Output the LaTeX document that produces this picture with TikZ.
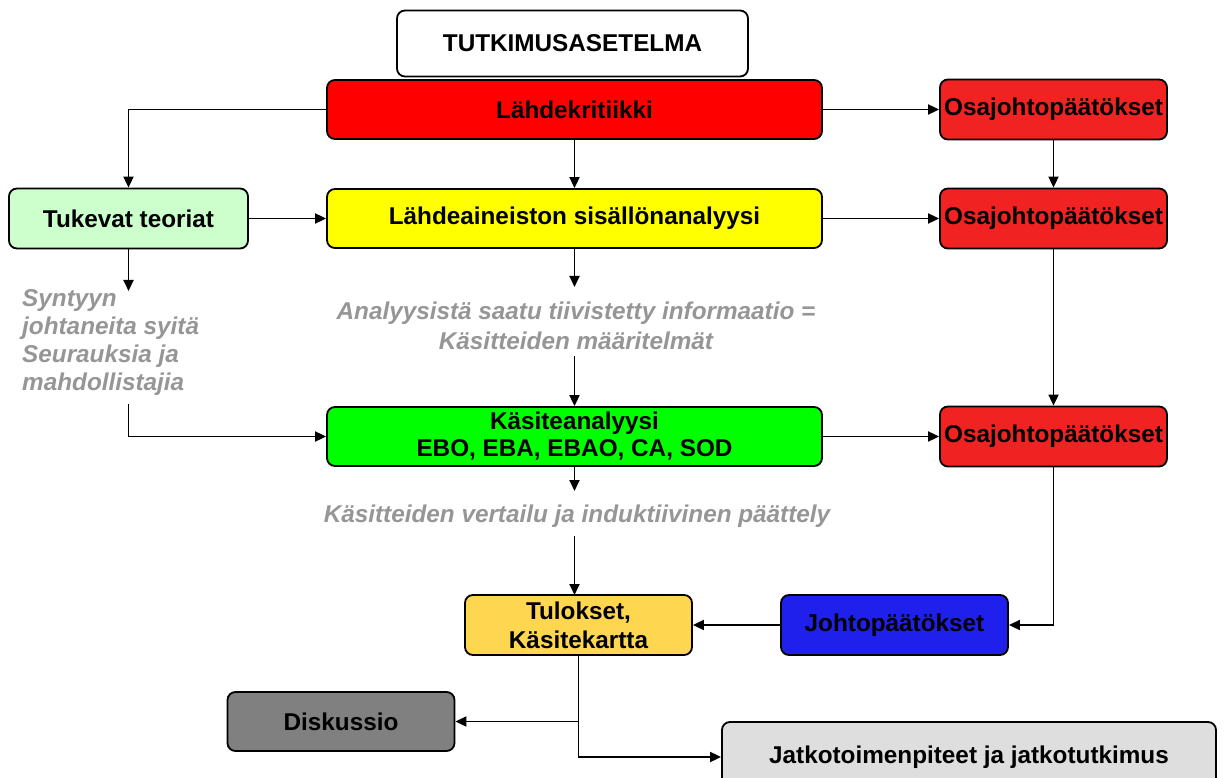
\documentclass[tikz,border=0pt]{standalone}
\usepackage{fontspec}
\setmainfont{Liberation Sans}
\usetikzlibrary{arrows.meta}

\definecolor{redbox}{RGB}{255,0,0}
\definecolor{redpat}{RGB}{240,34,34}
\definecolor{paleg}{RGB}{204,255,204}
\definecolor{yel}{RGB}{255,255,0}
\definecolor{grn}{RGB}{0,255,0}
\definecolor{gold}{RGB}{255,214,80}
\definecolor{blu}{RGB}{32,32,236}
\definecolor{dgray}{RGB}{128,128,128}
\definecolor{lgray}{RGB}{222,222,222}
\definecolor{note}{RGB}{150,150,150}

\tikzset{
  box/.style={draw=black, line width=1.8pt, rounded corners=8pt, align=center,
    inner sep=0pt, font=\bfseries\fontsize{24.3}{28}\selectfont},
  wide/.style={box, minimum width=495, minimum height=59},
  small/.style={box, minimum width=227, minimum height=60},
  notetext/.style={text=note, font=\bfseries\itshape\fontsize{24.3}{29.5}\selectfont, inner sep=0pt},
  conn/.style={line width=1.8pt, -{Triangle[length=11pt,width=10pt]}}
}

\begin{document}
\begin{tikzpicture}[x=1pt,y=-1pt]
\clip (0,0) rectangle (1224,778);
\fill[white] (0,0) rectangle (1224,778);

% title
\node[box, minimum width=351, minimum height=66] (title) at (572.5,43.5) {TUTKIMUSASETELMA};

% main column
\node[wide, fill=redbox] (lk) at (574.5,109.5) {Lähdekritiikki};
\node[wide, fill=yel] (la) at (574.5,218.5) {Lähdeaineiston sisällönanalyysi};
\node[wide, fill=grn, font=\bfseries\fontsize{24.3}{27}\selectfont] (ka) at (574.5,436.5) {Käsiteanalyysi\\EBO, EBA, EBAO, CA, SOD};

% right column
\node[small, fill=redpat] (o1) at (1053.5,109.5) {Osajohtopäätökset};
\node[small, fill=redpat] (o2) at (1053.5,218.5) {Osajohtopäätökset};
\node[small, fill=redpat] (o3) at (1053.5,436.5) {Osajohtopäätökset};

% left
\node[box, fill=paleg, minimum width=239, minimum height=60] (tt) at (128.5,218.5) {Tukevat teoriat};

% results
\node[small, fill=gold, font=\bfseries\fontsize{24.3}{29}\selectfont] (tk) at (578.5,625) {Tulokset,\\Käsitekartta};
\node[small, fill=blu] (jp) at (894.5,625) {Johtopäätökset};
\node[small, fill=dgray, minimum height=59] (di) at (341,721.5) {Diskussio};
\node[box, fill=lgray, minimum width=494, minimum height=70] (jt) at (969,757) {\raisebox{5pt}{Jatkotoimenpiteet ja jatkotutkimus}};

% notes
\node[notetext, align=center] (info) at (576,326) {Analyysistä saatu tiivistetty informaatio =\\Käsitteiden määritelmät};
\node[notetext, align=left, anchor=north west, font=\bfseries\itshape\fontsize{24.3}{28}\selectfont] (syy) at (22,289)
  {Syntyyn\\johtaneita syitä\\Seurauksia ja\\mahdollistajia};
\node[notetext] (vert) at (577,516) {Käsitteiden vertailu ja induktiivinen päättely};

% free ends near the notes
\coordinate (infoIn) at (574.5,287);
\coordinate (infoOut) at (574.5,356);
\coordinate (syyIn) at (128.5,291);
\coordinate (syyOut) at (128.5,404);
\coordinate (vertIn) at (574.5,491);
\coordinate (vertOut) at (574.5,536);
\coordinate (tkIn) at (574.5,595);

% connectors
\draw[conn] (lk.east) -- (o1.west);
\draw[conn] (lk.west) -| (tt.north);
\draw[conn] (lk.south) -- (la.north);
\draw[conn] (o1.south) -- (o2.north);
\draw[conn] (tt.east) -- (la.west);
\draw[conn] (la.east) -- (o2.west);
\draw[conn] (la.south) -- (infoIn);
\draw[conn] (infoOut) -- (ka.north);
\draw[conn] (tt.south) -- (syyIn);
\draw[conn] (syyOut) |- (ka.west);
\draw[conn] (o2.south) -- (o3.north);
\draw[conn] (ka.east) -- (o3.west);
\draw[conn] (ka.south) -- (vertIn);
\draw[conn] (vertOut) -- (tkIn);
\draw[conn] (o3.south) |- (jp.east);
\draw[conn] (jp.west) -- (tk.east);
\draw[conn] (tk.south) |- (di.east);
\draw[conn] (tk.south) |- (jt.west);
\end{tikzpicture}
\end{document}
